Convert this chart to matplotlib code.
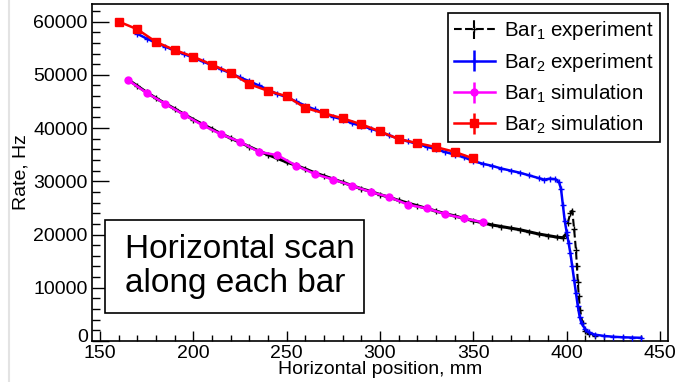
import numpy as np
import matplotlib
matplotlib.use('Agg')
import matplotlib.pyplot as plt
import matplotlib.transforms as mtransforms
from matplotlib.patches import Rectangle
from matplotlib.lines import Line2D

plt.rcParams['font.family'] = ['Liberation Sans', 'DejaVu Sans']
plt.rcParams['mathtext.fontset'] = 'custom'
plt.rcParams['mathtext.rm'] = 'Liberation Sans'
plt.rcParams['mathtext.it'] = 'Liberation Sans:italic'

# Bar2 simulation (red squares)
x_sim2 = [160, 170, 180, 190, 200, 210, 220, 230, 240, 250,
          260, 270, 280, 290, 300, 310, 320, 330, 340, 350]
y_sim2 = [60000, 58550, 56170, 54660, 53400, 51890, 50380, 48250, 46980, 45980,
          43770, 42770, 41830, 40700, 39380, 37920, 37170, 36420, 35530, 34280]

# Bar1 simulation (magenta circles)
x_sim1 = [165, 175, 185, 195, 205, 215, 225, 235, 245, 255,
          265, 275, 285, 295, 305, 315, 325, 335, 345, 355]
y_sim1 = [49000, 46600, 44530, 42510, 40510, 38810, 37420, 35530, 34910, 32960,
          31380, 30320, 29190, 27980, 27040, 25600, 24910, 23830, 23020, 22320]

# Bar2 experiment (blue)
x_exp2 = [170, 175, 180, 185, 190, 195, 200, 205, 210, 215, 220, 225, 230, 235,
          240, 245, 250, 255, 260, 265, 270, 275, 280, 285, 290, 295, 300, 305,
          310, 315, 320, 325, 330, 335, 340, 345, 350, 355, 360, 365, 370, 375,
          380, 385, 388, 391, 394, 396, 397, 398, 399, 400, 401, 402, 403, 404,
          405, 406, 407, 408, 410, 412, 415, 420, 425, 430, 435, 440]
y_exp2 = [57700, 56800, 56000, 55300, 54500, 53900, 53200, 52500, 51800, 51000,
          50300, 49500, 48800, 48000, 47200, 46400, 45800, 45000, 44200, 43500,
          42800, 42100, 41600, 40900, 40400, 39900, 39300, 38600, 38000, 37500,
          37000, 36500, 36000, 35500, 35000, 34500, 33800, 33300, 32900, 32400,
          32000, 31600, 31100, 30600, 30300, 30500, 30400, 29800, 28500, 25500,
          22500, 20500, 18500, 16500, 14000, 11500, 9000, 6500, 4500, 3300,
          2200, 1600, 1200, 950, 800, 700, 650, 600]

# Bar1 experiment (black)
x_exp1 = [165, 170, 175, 180, 185, 190, 195, 200, 205, 210, 215, 220, 225, 230,
          235, 240, 245, 250, 255, 260, 265, 270, 275, 280, 285, 290, 295, 300,
          305, 310, 315, 320, 325, 330, 335, 340, 345, 350, 355, 360, 365, 370,
          375, 380, 385, 390, 395, 398, 399.5, 400.5, 402, 403, 404, 405, 405.5,
          406, 406.5, 407.2, 408.5, 410, 412, 415]
y_exp1 = [49100, 47900, 46700, 45600, 44600, 43600, 42600, 41600, 40700, 39800,
          38900, 38100, 37300, 36500, 35700, 35000, 34300, 33600, 33000, 32300,
          31600, 31000, 30400, 29800, 29200, 28600, 28100, 27500, 27000, 26400,
          25900, 25400, 24900, 24400, 23900, 23500, 23000, 22600, 22200, 21800,
          21500, 21200, 20900, 20500, 20100, 19800, 19500, 19400, 20000, 22100,
          24000, 24500, 21000, 17000, 14000, 11000, 8400, 5800, 3300, 1800,
          1300, 1000]

labels = [r'Bar$_{\mathrm{1}}$ experiment', r'Bar$_{\mathrm{2}}$ experiment',
          r'Bar$_{\mathrm{1}}$ simulation', r'Bar$_{\mathrm{2}}$ simulation']

fig = plt.figure(figsize=(6.79, 3.82), dpi=100)
ax = fig.add_axes([92/679, 1-341/382, 576/679, 337/382])

x1 = np.array(x_exp1)
y1 = np.array(y_exp1)
flat = x1 <= 399.5

# black: solid where dense, dashed through the edge
ax.plot(x1[flat], y1[flat], color='k', lw=2.2, marker='+', ms=4, mew=1, zorder=2)
eb1 = ax.errorbar(x1[~flat], y1[~flat], yerr=np.zeros((~flat).sum()), color='k',
                  ls='--', lw=1.5, marker='+', ms=4, mew=1, capsize=0, zorder=2,
                  label=labels[0])
eb1[2][0].set_linestyle('--')

ax.errorbar(x_exp2, y_exp2, yerr=np.zeros(len(x_exp2)), color='#0000ff', lw=1.8,
            marker='+', ms=5, mew=1, capsize=0, zorder=3, label=labels[1])
ax.errorbar(x_sim1, y_sim1, yerr=np.zeros(len(x_sim1)), color='#ff00ff', lw=1.8,
            marker='o', ms=5, capsize=0, zorder=4, label=labels[2])
ax.errorbar(x_sim2, y_sim2, yerr=np.zeros(len(x_sim2)), color='#ff0000', lw=1.8,
            marker='s', ms=5.2, capsize=0, zorder=5, label=labels[3])

ax.set_xlim(145.7, 454.3)
ax.set_ylim(0, 63300)
ax.set_xticks(np.arange(150, 451, 50))
ax.set_xticks(np.arange(150, 451, 10), minor=True)
ax.set_yticks(np.arange(0, 60001, 10000))
ax.set_yticks(np.arange(0, 63001, 2000), minor=True)
ax.tick_params(axis='both', which='both', direction='in', top=False, right=False,
               labelsize=14, width=1)
ax.tick_params(axis='y', which='major', length=12.2, pad=3)
ax.tick_params(axis='y', which='minor', length=6.1)
ax.tick_params(axis='x', which='major', length=7.2, pad=3)
ax.tick_params(axis='x', which='minor', length=4.3)
for s in ax.spines.values():
    s.set_linewidth(1.2)

# lift the "0" label a little so it clears the "150" below it
zero_lab = ax.yaxis.get_major_ticks()[0].label1
zero_lab.set_transform(zero_lab.get_transform()
                       + mtransforms.ScaledTranslation(0, 5/100, fig.dpi_scale_trans))

ax.set_xlabel('Horizontal position, mm', fontsize=14, labelpad=-1)
ax.set_ylabel('Rate, Hz', fontsize=14, va='center')
ax.yaxis.set_label_coords(-0.124, 0.5)

leg = ax.legend(loc='upper right', bbox_to_anchor=(0.986, 0.973), borderaxespad=0,
                fontsize=14.8, frameon=True, fancybox=False, framealpha=1,
                edgecolor='k', handlelength=2.0, handletextpad=0.45,
                labelspacing=0.42, borderpad=0.3)
leg.get_frame().set_linewidth(1.2)

ax.add_patch(Rectangle((0.0226, 0.0833), 0.4494, 0.2753, transform=ax.transAxes,
                       fill=True, facecolor='white', edgecolor='k', lw=1.2, zorder=6))
ax.text(0.0573, 0.221, 'Horizontal scan\nalong each bar', transform=ax.transAxes,
        fontsize=24, ha='left', va='center', linespacing=1.1, zorder=7)

fig.add_artist(Line2D([9/679, 9/679], [0, 1], color='#e3e3e3', lw=1.5))

fig.savefig('out.png', dpi=100)
